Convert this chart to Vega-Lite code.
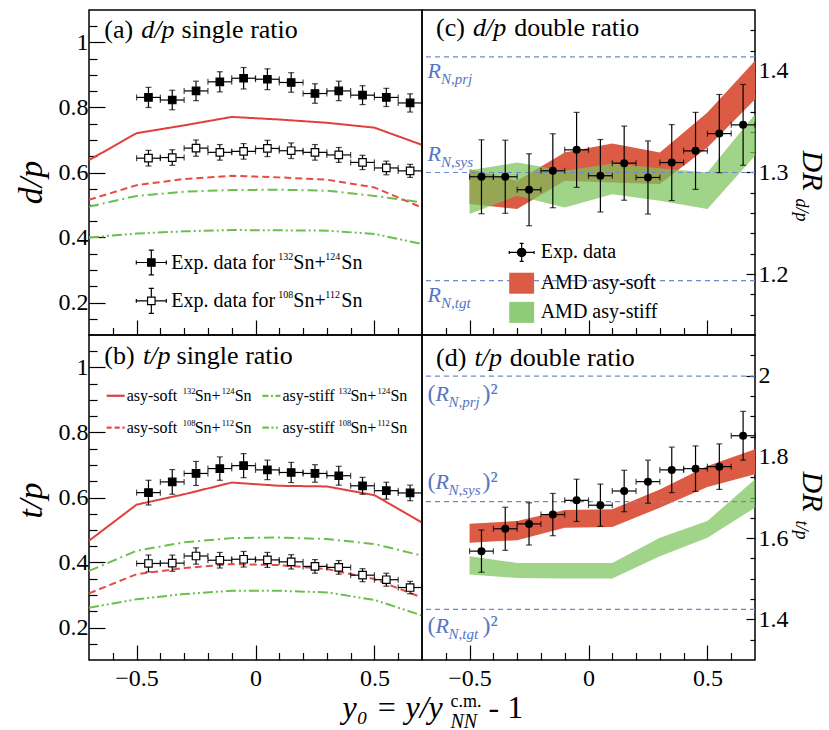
{
  "$schema": "https://vega.github.io/schema/vega-lite/v6.json",
  "background": "white",
  "padding": {"left": 13, "top": 9, "right": 5, "bottom": 5},
  "config": {
    "font": "Liberation Serif",
    "view": {"stroke": "black", "strokeWidth": 1.5},
    "axis": {"domain": false, "grid": false, "tickColor": "black", "tickWidth": 1.2, "labelFont": "Liberation Serif", "labelFontSize": 24, "labelColor": "black", "titleFont": "Liberation Serif", "titleColor": "black", "titleFontWeight": "normal", "labelOverlap": false, "labelFlush": false, "labelBound": false},
    "text": {"font": "Liberation Serif", "color": "black"}
  },
  "datasets": {
    "lines": [
      {"panel": "a", "model": "soft132", "x": -0.7, "v": 0.638}, {"panel": "a", "model": "soft132", "x": -0.5, "v": 0.721}, {"panel": "a", "model": "soft132", "x": -0.3, "v": 0.745}, {"panel": "a", "model": "soft132", "x": -0.1, "v": 0.771}, {"panel": "a", "model": "soft132", "x": 0.1, "v": 0.763}, {"panel": "a", "model": "soft132", "x": 0.3, "v": 0.753}, {"panel": "a", "model": "soft132", "x": 0.5, "v": 0.738}, {"panel": "a", "model": "soft132", "x": 0.7, "v": 0.685},
      {"panel": "a", "model": "soft108", "x": -0.7, "v": 0.516}, {"panel": "a", "model": "soft108", "x": -0.5, "v": 0.561}, {"panel": "a", "model": "soft108", "x": -0.3, "v": 0.58}, {"panel": "a", "model": "soft108", "x": -0.1, "v": 0.59}, {"panel": "a", "model": "soft108", "x": 0.1, "v": 0.585}, {"panel": "a", "model": "soft108", "x": 0.3, "v": 0.578}, {"panel": "a", "model": "soft108", "x": 0.5, "v": 0.554}, {"panel": "a", "model": "soft108", "x": 0.7, "v": 0.492},
      {"panel": "a", "model": "stiff132", "x": -0.7, "v": 0.495}, {"panel": "a", "model": "stiff132", "x": -0.5, "v": 0.528}, {"panel": "a", "model": "stiff132", "x": -0.3, "v": 0.541}, {"panel": "a", "model": "stiff132", "x": -0.1, "v": 0.546}, {"panel": "a", "model": "stiff132", "x": 0.1, "v": 0.547}, {"panel": "a", "model": "stiff132", "x": 0.3, "v": 0.544}, {"panel": "a", "model": "stiff132", "x": 0.5, "v": 0.528}, {"panel": "a", "model": "stiff132", "x": 0.7, "v": 0.508},
      {"panel": "a", "model": "stiff108", "x": -0.7, "v": 0.4}, {"panel": "a", "model": "stiff108", "x": -0.5, "v": 0.412}, {"panel": "a", "model": "stiff108", "x": -0.3, "v": 0.419}, {"panel": "a", "model": "stiff108", "x": -0.1, "v": 0.423}, {"panel": "a", "model": "stiff108", "x": 0.1, "v": 0.422}, {"panel": "a", "model": "stiff108", "x": 0.3, "v": 0.421}, {"panel": "a", "model": "stiff108", "x": 0.5, "v": 0.411}, {"panel": "a", "model": "stiff108", "x": 0.7, "v": 0.38},
      {"panel": "b", "model": "soft132", "x": -0.7, "v": 0.467}, {"panel": "b", "model": "soft132", "x": -0.5, "v": 0.578}, {"panel": "b", "model": "soft132", "x": -0.3, "v": 0.61}, {"panel": "b", "model": "soft132", "x": -0.1, "v": 0.646}, {"panel": "b", "model": "soft132", "x": 0.1, "v": 0.636}, {"panel": "b", "model": "soft132", "x": 0.3, "v": 0.634}, {"panel": "b", "model": "soft132", "x": 0.5, "v": 0.607}, {"panel": "b", "model": "soft132", "x": 0.7, "v": 0.523},
      {"panel": "b", "model": "soft108", "x": -0.7, "v": 0.305}, {"panel": "b", "model": "soft108", "x": -0.5, "v": 0.364}, {"panel": "b", "model": "soft108", "x": -0.3, "v": 0.383}, {"panel": "b", "model": "soft108", "x": -0.1, "v": 0.395}, {"panel": "b", "model": "soft108", "x": 0.1, "v": 0.392}, {"panel": "b", "model": "soft108", "x": 0.3, "v": 0.38}, {"panel": "b", "model": "soft108", "x": 0.5, "v": 0.349}, {"panel": "b", "model": "soft108", "x": 0.7, "v": 0.292},
      {"panel": "b", "model": "stiff132", "x": -0.7, "v": 0.374}, {"panel": "b", "model": "stiff132", "x": -0.5, "v": 0.436}, {"panel": "b", "model": "stiff132", "x": -0.3, "v": 0.462}, {"panel": "b", "model": "stiff132", "x": -0.1, "v": 0.475}, {"panel": "b", "model": "stiff132", "x": 0.1, "v": 0.477}, {"panel": "b", "model": "stiff132", "x": 0.3, "v": 0.472}, {"panel": "b", "model": "stiff132", "x": 0.5, "v": 0.457}, {"panel": "b", "model": "stiff132", "x": 0.7, "v": 0.421},
      {"panel": "b", "model": "stiff108", "x": -0.7, "v": 0.261}, {"panel": "b", "model": "stiff108", "x": -0.5, "v": 0.287}, {"panel": "b", "model": "stiff108", "x": -0.3, "v": 0.303}, {"panel": "b", "model": "stiff108", "x": -0.1, "v": 0.313}, {"panel": "b", "model": "stiff108", "x": 0.1, "v": 0.313}, {"panel": "b", "model": "stiff108", "x": 0.3, "v": 0.308}, {"panel": "b", "model": "stiff108", "x": 0.5, "v": 0.285}, {"panel": "b", "model": "stiff108", "x": 0.7, "v": 0.237}
    ],
    "single": [
      {"panel": "a", "sys": "132", "x": -0.45, "v": 0.831, "e": 0.031, "xe": 0.05}, {"panel": "a", "sys": "132", "x": -0.35, "v": 0.823, "e": 0.03, "xe": 0.05}, {"panel": "a", "sys": "132", "x": -0.25, "v": 0.851, "e": 0.03, "xe": 0.05}, {"panel": "a", "sys": "132", "x": -0.15, "v": 0.879, "e": 0.031, "xe": 0.05}, {"panel": "a", "sys": "132", "x": -0.05, "v": 0.89, "e": 0.033, "xe": 0.05}, {"panel": "a", "sys": "132", "x": 0.05, "v": 0.887, "e": 0.032, "xe": 0.05}, {"panel": "a", "sys": "132", "x": 0.15, "v": 0.877, "e": 0.03, "xe": 0.05}, {"panel": "a", "sys": "132", "x": 0.25, "v": 0.843, "e": 0.03, "xe": 0.05}, {"panel": "a", "sys": "132", "x": 0.35, "v": 0.851, "e": 0.03, "xe": 0.05}, {"panel": "a", "sys": "132", "x": 0.45, "v": 0.838, "e": 0.029, "xe": 0.05}, {"panel": "a", "sys": "132", "x": 0.55, "v": 0.831, "e": 0.028, "xe": 0.05}, {"panel": "a", "sys": "132", "x": 0.65, "v": 0.814, "e": 0.028, "xe": 0.05},
      {"panel": "a", "sys": "108", "x": -0.45, "v": 0.644, "e": 0.024, "xe": 0.05}, {"panel": "a", "sys": "108", "x": -0.35, "v": 0.646, "e": 0.024, "xe": 0.05}, {"panel": "a", "sys": "108", "x": -0.25, "v": 0.675, "e": 0.025, "xe": 0.05}, {"panel": "a", "sys": "108", "x": -0.15, "v": 0.662, "e": 0.024, "xe": 0.05}, {"panel": "a", "sys": "108", "x": -0.05, "v": 0.665, "e": 0.024, "xe": 0.05}, {"panel": "a", "sys": "108", "x": 0.05, "v": 0.674, "e": 0.025, "xe": 0.05}, {"panel": "a", "sys": "108", "x": 0.15, "v": 0.667, "e": 0.024, "xe": 0.05}, {"panel": "a", "sys": "108", "x": 0.25, "v": 0.662, "e": 0.024, "xe": 0.05}, {"panel": "a", "sys": "108", "x": 0.35, "v": 0.654, "e": 0.023, "xe": 0.05}, {"panel": "a", "sys": "108", "x": 0.45, "v": 0.631, "e": 0.022, "xe": 0.05}, {"panel": "a", "sys": "108", "x": 0.55, "v": 0.614, "e": 0.021, "xe": 0.05}, {"panel": "a", "sys": "108", "x": 0.65, "v": 0.605, "e": 0.02, "xe": 0.05},
      {"panel": "b", "sys": "132", "x": -0.45, "v": 0.615, "e": 0.038, "xe": 0.05}, {"panel": "b", "sys": "132", "x": -0.35, "v": 0.648, "e": 0.038, "xe": 0.05}, {"panel": "b", "sys": "132", "x": -0.25, "v": 0.674, "e": 0.037, "xe": 0.05}, {"panel": "b", "sys": "132", "x": -0.15, "v": 0.689, "e": 0.036, "xe": 0.05}, {"panel": "b", "sys": "132", "x": -0.05, "v": 0.698, "e": 0.037, "xe": 0.05}, {"panel": "b", "sys": "132", "x": 0.05, "v": 0.685, "e": 0.03, "xe": 0.05}, {"panel": "b", "sys": "132", "x": 0.15, "v": 0.677, "e": 0.031, "xe": 0.05}, {"panel": "b", "sys": "132", "x": 0.25, "v": 0.674, "e": 0.027, "xe": 0.05}, {"panel": "b", "sys": "132", "x": 0.35, "v": 0.667, "e": 0.029, "xe": 0.05}, {"panel": "b", "sys": "132", "x": 0.45, "v": 0.636, "e": 0.026, "xe": 0.05}, {"panel": "b", "sys": "132", "x": 0.55, "v": 0.621, "e": 0.026, "xe": 0.05}, {"panel": "b", "sys": "132", "x": 0.65, "v": 0.614, "e": 0.024, "xe": 0.05},
      {"panel": "b", "sys": "108", "x": -0.45, "v": 0.397, "e": 0.026, "xe": 0.05}, {"panel": "b", "sys": "108", "x": -0.35, "v": 0.398, "e": 0.025, "xe": 0.05}, {"panel": "b", "sys": "108", "x": -0.25, "v": 0.42, "e": 0.025, "xe": 0.05}, {"panel": "b", "sys": "108", "x": -0.15, "v": 0.407, "e": 0.024, "xe": 0.05}, {"panel": "b", "sys": "108", "x": -0.05, "v": 0.41, "e": 0.024, "xe": 0.05}, {"panel": "b", "sys": "108", "x": 0.05, "v": 0.408, "e": 0.023, "xe": 0.05}, {"panel": "b", "sys": "108", "x": 0.15, "v": 0.402, "e": 0.022, "xe": 0.05}, {"panel": "b", "sys": "108", "x": 0.25, "v": 0.388, "e": 0.021, "xe": 0.05}, {"panel": "b", "sys": "108", "x": 0.35, "v": 0.385, "e": 0.021, "xe": 0.05}, {"panel": "b", "sys": "108", "x": 0.45, "v": 0.361, "e": 0.02, "xe": 0.05}, {"panel": "b", "sys": "108", "x": 0.55, "v": 0.347, "e": 0.02, "xe": 0.05}, {"panel": "b", "sys": "108", "x": 0.65, "v": 0.323, "e": 0.019, "xe": 0.05}
    ],
    "double": [
      {"panel": "c", "x": -0.45, "v": 1.2958, "e": 0.0364, "xe": 0.05}, {"panel": "c", "x": -0.35, "v": 1.2958, "e": 0.036, "xe": 0.05}, {"panel": "c", "x": -0.25, "v": 1.283, "e": 0.0354, "xe": 0.05}, {"panel": "c", "x": -0.15, "v": 1.3017, "e": 0.0364, "xe": 0.05}, {"panel": "c", "x": -0.05, "v": 1.3223, "e": 0.0369, "xe": 0.05}, {"panel": "c", "x": 0.05, "v": 1.2968, "e": 0.0357, "xe": 0.05}, {"panel": "c", "x": 0.15, "v": 1.3092, "e": 0.0365, "xe": 0.05}, {"panel": "c", "x": 0.25, "v": 1.2951, "e": 0.036, "xe": 0.05}, {"panel": "c", "x": 0.35, "v": 1.3098, "e": 0.0374, "xe": 0.05}, {"panel": "c", "x": 0.45, "v": 1.3213, "e": 0.0379, "xe": 0.05}, {"panel": "c", "x": 0.55, "v": 1.3383, "e": 0.0385, "xe": 0.05}, {"panel": "c", "x": 0.65, "v": 1.3469, "e": 0.0398, "xe": 0.05},
      {"panel": "d", "x": -0.45, "v": 1.568, "e": 0.052, "xe": 0.05}, {"panel": "d", "x": -0.35, "v": 1.623, "e": 0.053, "xe": 0.05}, {"panel": "d", "x": -0.25, "v": 1.635, "e": 0.052, "xe": 0.05}, {"panel": "d", "x": -0.15, "v": 1.658, "e": 0.052, "xe": 0.05}, {"panel": "d", "x": -0.05, "v": 1.693, "e": 0.052, "xe": 0.05}, {"panel": "d", "x": 0.05, "v": 1.681, "e": 0.052, "xe": 0.05}, {"panel": "d", "x": 0.15, "v": 1.716, "e": 0.051, "xe": 0.05}, {"panel": "d", "x": 0.25, "v": 1.739, "e": 0.053, "xe": 0.05}, {"panel": "d", "x": 0.35, "v": 1.768, "e": 0.056, "xe": 0.05}, {"panel": "d", "x": 0.45, "v": 1.771, "e": 0.056, "xe": 0.05}, {"panel": "d", "x": 0.55, "v": 1.776, "e": 0.056, "xe": 0.05}, {"panel": "d", "x": 0.65, "v": 1.852, "e": 0.06, "xe": 0.05}
    ],
    "bands": [
      {"panel": "c", "model": "soft", "x": -0.5, "lo": 1.2689, "hi": 1.3033}, {"panel": "c", "model": "soft", "x": -0.3, "lo": 1.264, "hi": 1.292}, {"panel": "c", "model": "soft", "x": -0.1, "lo": 1.2918, "hi": 1.3197}, {"panel": "c", "model": "soft", "x": 0.1, "lo": 1.2902, "hi": 1.3285}, {"panel": "c", "model": "soft", "x": 0.3, "lo": 1.2886, "hi": 1.3197}, {"panel": "c", "model": "soft", "x": 0.5, "lo": 1.3246, "hi": 1.359}, {"panel": "c", "model": "soft", "x": 0.7, "lo": 1.372, "hi": 1.41},
      {"panel": "c", "model": "stiff", "x": -0.5, "lo": 1.2591, "hi": 1.3023}, {"panel": "c", "model": "stiff", "x": -0.3, "lo": 1.2771, "hi": 1.3098}, {"panel": "c", "model": "stiff", "x": -0.1, "lo": 1.2656, "hi": 1.3017}, {"panel": "c", "model": "stiff", "x": 0.1, "lo": 1.2787, "hi": 1.3089}, {"panel": "c", "model": "stiff", "x": 0.3, "lo": 1.2722, "hi": 1.3043}, {"panel": "c", "model": "stiff", "x": 0.5, "lo": 1.264, "hi": 1.3}, {"panel": "c", "model": "stiff", "x": 0.7, "lo": 1.3164, "hi": 1.3574},
      {"panel": "d", "model": "soft", "x": -0.5, "lo": 1.5885, "hi": 1.6354}, {"panel": "d", "model": "soft", "x": -0.3, "lo": 1.595, "hi": 1.642}, {"panel": "d", "model": "soft", "x": -0.1, "lo": 1.6255, "hi": 1.669}, {"panel": "d", "model": "soft", "x": 0.1, "lo": 1.6272, "hi": 1.6708}, {"panel": "d", "model": "soft", "x": 0.3, "lo": 1.6749, "hi": 1.72}, {"panel": "d", "model": "soft", "x": 0.5, "lo": 1.726, "hi": 1.7778}, {"panel": "d", "model": "soft", "x": 0.7, "lo": 1.7573, "hi": 1.819},
      {"panel": "d", "model": "stiff", "x": -0.5, "lo": 1.5103, "hi": 1.5556}, {"panel": "d", "model": "stiff", "x": -0.3, "lo": 1.502, "hi": 1.539}, {"panel": "d", "model": "stiff", "x": -0.1, "lo": 1.5005, "hi": 1.539}, {"panel": "d", "model": "stiff", "x": 0.1, "lo": 1.5005, "hi": 1.539}, {"panel": "d", "model": "stiff", "x": 0.3, "lo": 1.5556, "hi": 1.6008}, {"panel": "d", "model": "stiff", "x": 0.5, "lo": 1.6008, "hi": 1.642}, {"panel": "d", "model": "stiff", "x": 0.7, "lo": 1.6749, "hi": 1.745}
    ],
    "refs": [
      {"panel": "c", "ref": "N,prj", "v": 1.4138, "labelV": 1.3928}, {"panel": "c", "ref": "N,sys", "v": 1.3, "labelV": 1.3115}, {"panel": "c", "ref": "N,tgt", "v": 1.1935, "labelV": 1.1722},
      {"panel": "d", "ref": "N,prj", "v": 1.9988, "labelV": 1.938}, {"panel": "d", "ref": "N,sys", "v": 1.69, "labelV": 1.72}, {"panel": "d", "ref": "N,tgt", "v": 1.4245, "labelV": 1.366}
    ],
    "legend": [
      {"panel": "a", "kind": "exp132", "x": -0.438, "y": 0.323, "label": "Exp. data for", "a": "132", "b": "124"},
      {"panel": "a", "kind": "exp108", "x": -0.438, "y": 0.205, "label": "Exp. data for", "a": "108", "b": "112"},
      {"panel": "b", "kind": "soft132", "x": -0.588, "y": 0.913, "label": "asy-soft", "a": "132", "b": "124"},
      {"panel": "b", "kind": "stiff132", "x": 0.067, "y": 0.913, "label": "asy-stiff", "a": "132", "b": "124"},
      {"panel": "b", "kind": "soft108", "x": -0.588, "y": 0.815, "label": "asy-soft", "a": "108", "b": "112"},
      {"panel": "b", "kind": "stiff108", "x": 0.067, "y": 0.815, "label": "asy-stiff", "a": "108", "b": "112"},
      {"panel": "c", "kind": "expDR", "x": -0.281, "y": 1.2213, "label": "Exp. data"},
      {"panel": "c", "kind": "bandSoft", "x": -0.281, "y": 1.191, "label": "AMD asy-soft"},
      {"panel": "c", "kind": "bandStiff", "x": -0.281, "y": 1.1623, "label": "AMD asy-stiff"}
    ],
    "labels": [
      {"panel": "a", "part": "num", "x": -0.636, "y": 1.015, "text": "(a)"}, {"panel": "a", "part": "var", "x": -0.48, "y": 1.015, "text": "d/p"}, {"panel": "a", "part": "desc", "x": -0.311, "y": 1.015, "text": "single ratio"},
      {"panel": "b", "part": "num", "x": -0.636, "y": 1.0105, "text": "(b)"}, {"panel": "b", "part": "var", "x": -0.473, "y": 1.0105, "text": "t/p"}, {"panel": "b", "part": "desc", "x": -0.332, "y": 1.0105, "text": "single ratio"},
      {"panel": "c", "part": "num", "x": -0.641, "y": 1.4344, "text": "(c)"}, {"panel": "c", "part": "var", "x": -0.486, "y": 1.4344, "text": "d/p"}, {"panel": "c", "part": "desc", "x": -0.312, "y": 1.4344, "text": "double ratio"},
      {"panel": "d", "part": "num", "x": -0.641, "y": 2.0247, "text": "(d)"}, {"panel": "d", "part": "var", "x": -0.479, "y": 2.0247, "text": "t/p"}, {"panel": "d", "part": "desc", "x": -0.331, "y": 2.0247, "text": "double ratio"}
    ]
  },
  "columns": 2,
  "spacing": 0,
  "bounds": "flush",
  "resolve": {"scale": {"color": "independent", "strokeDash": "independent", "fill": "independent", "stroke": "independent", "shape": "independent"}},
  "concat": [
    {
      "width": 333, "height": 325,
      "resolve": {"axis": {"x": "independent", "y": "independent"}, "scale": {"color": "independent", "strokeDash": "independent", "fill": "independent", "stroke": "independent", "shape": "independent"}},
      "layer": [
        {
          "data": {"name": "lines"}, "transform": [{"filter": "datum.panel == 'a'"}],
          "mark": {"type": "line", "strokeWidth": 2},
          "encoding": {
            "x": {"field": "x", "type": "quantitative", "scale": {"domain": [-0.7, 0.7], "nice": false, "zero": false}, "axis": {"orient": "bottom", "values": [-0.6, -0.5, -0.4, -0.3, -0.2, -0.1, 0, 0.1, 0.2, 0.3, 0.4, 0.5, 0.6], "tickSize": {"condition": {"test": "datum.value == 0 || abs(datum.value) == 0.5", "value": -15}, "value": -7.5}, "labels": false, "title": null}},
            "y": {"field": "v", "type": "quantitative", "scale": {"domain": [0.1, 1.1], "nice": false, "zero": false}, "axis": {"orient": "left", "values": [0.15, 0.2, 0.25, 0.3, 0.35, 0.4, 0.45, 0.5, 0.55, 0.6, 0.65, 0.7, 0.75, 0.8, 0.85, 0.9, 0.95, 1, 1.05], "tickSize": {"condition": {"test": "indexof([0.2,0.4,0.6,0.8,1], datum.value) >= 0", "value": -16}, "value": -8}, "labelExpr": "indexof([0.2,0.4,0.6,0.8,1], datum.value) >= 0 ? format(datum.value, '~g') : ''", "labelPadding": 17, "title": "d/p", "titleFontSize": 34, "titleFontStyle": "italic", "titleAngle": 270, "titleX": -48, "titleY": 172, "titleAlign": "center", "titleBaseline": "alphabetic"}},
            "color": {"field": "model", "type": "nominal", "scale": {"domain": ["soft132", "soft108", "stiff132", "stiff108"], "range": ["#e0403c", "#e84a45", "#6cbf4f", "#6cbf4f"]}, "legend": null},
            "strokeDash": {"field": "model", "type": "nominal", "scale": {"domain": ["soft132", "soft108", "stiff132", "stiff108"], "range": [[1, 0], [7, 4], [10, 4, 2, 4], [10, 3, 2, 3, 2, 3]]}, "legend": null}
          }
        },
        {
          "data": {"name": "single"}, "transform": [{"filter": "datum.panel == 'a'"}],
          "mark": {"type": "errorbar", "ticks": true, "size": 6, "thickness": 1.2, "color": "black"},
          "encoding": {
            "x": {"field": "x", "type": "quantitative", "scale": {"domain": [-0.7, 0.7], "nice": false, "zero": false}, "axis": null},
            "y": {"field": "v", "type": "quantitative", "scale": {"domain": [0.1, 1.1], "nice": false, "zero": false}, "axis": null},
            "yError": {"field": "e"}
          }
        },
        {
          "data": {"name": "single"}, "transform": [{"filter": "datum.panel == 'a'"}],
          "mark": {"type": "errorbar", "ticks": true, "size": 6, "thickness": 1.2, "color": "black"},
          "encoding": {
            "x": {"field": "x", "type": "quantitative", "scale": {"domain": [-0.7, 0.7], "nice": false, "zero": false}, "axis": null},
            "xError": {"field": "xe"},
            "y": {"field": "v", "type": "quantitative", "scale": {"domain": [0.1, 1.1], "nice": false, "zero": false}, "axis": null}
          }
        },
        {
          "data": {"name": "single"}, "transform": [{"filter": "datum.panel == 'a'"}],
          "mark": {"type": "point", "shape": "square", "size": 56, "filled": true, "stroke": "black", "strokeWidth": 1.2, "opacity": 1},
          "encoding": {
            "x": {"field": "x", "type": "quantitative", "scale": {"domain": [-0.7, 0.7], "nice": false, "zero": false}, "axis": null},
            "y": {"field": "v", "type": "quantitative", "scale": {"domain": [0.1, 1.1], "nice": false, "zero": false}, "axis": null},
            "fill": {"condition": {"test": "datum.sys == '132'", "value": "black"}, "value": "white"}
          }
        },
        {
          "data": {"name": "legend"}, "transform": [{"filter": "datum.panel == 'a'"}],
          "mark": {"type": "point", "size": 900, "filled": true, "strokeWidth": 1.2, "opacity": 1},
          "encoding": {
            "x": {"field": "x", "type": "quantitative", "scale": {"domain": [-0.7, 0.7], "nice": false, "zero": false}, "axis": null},
            "y": {"field": "y", "type": "quantitative", "scale": {"domain": [0.1, 1.1], "nice": false, "zero": false}, "axis": null},
            "shape": {"field": "kind", "type": "nominal", "legend": null, "scale": {"domain": ["exp132", "exp108", "expDR", "soft132", "soft108", "stiff132", "stiff108", "bandSoft", "bandStiff"], "range": ["M-1,0H-0.25M0.25,0H1M0,-0.83V-0.25M0,0.25V0.83M-0.17,-0.83H0.17M-0.17,0.83H0.17M-1,-0.13V0.13M1,-0.13V0.13M-0.25,-0.25H0.25V0.25H-0.25Z", "M-1,0H-0.25M0.25,0H1M0,-0.83V-0.25M0,0.25V0.83M-0.17,-0.83H0.17M-0.17,0.83H0.17M-1,-0.13V0.13M1,-0.13V0.13M-0.25,-0.25H0.25V0.25H-0.25Z", "M-0.83,0H0.83M0,-0.6V0.6M-0.13,-0.6H0.13M-0.13,0.6H0.13M-0.83,-0.1V0.1M0.83,-0.1V0.1M-0.28,0A0.28,0.28 0 1,0 0.28,0A0.28,0.28 0 1,0 -0.28,0Z", "M-0.6,-0.075H0.6V0.075H-0.6Z", "M-0.6,-0.075H-0.27V0.075H-0.6ZM-0.07,-0.075H0.27V0.075H-0.07ZM0.45,-0.075H0.6V0.075H0.45Z", "M-0.6,-0.075H-0.2V0.075H-0.6ZM-0.03,-0.075H0.1V0.075H-0.03ZM0.27,-0.075H0.6V0.075H0.27Z", "M-0.6,-0.075H-0.17V0.075H-0.6ZM0,-0.075H0.13V0.075H0ZM0.3,-0.075H0.43V0.075H0.3Z", "M-0.83,-0.7H0.83V0.7H-0.83Z", "M-0.83,-0.7H0.83V0.7H-0.83Z"]}},
            "fill": {"field": "kind", "type": "nominal", "legend": null, "scale": {"domain": ["exp132", "exp108", "expDR", "soft132", "soft108", "stiff132", "stiff108", "bandSoft", "bandStiff"], "range": ["black", "white", "black", "#e0403c", "#e84a45", "#6cbf4f", "#6cbf4f", "#db5b45", "#8fcc78"]}},
            "stroke": {"field": "kind", "type": "nominal", "legend": null, "scale": {"domain": ["exp132", "exp108", "expDR", "soft132", "soft108", "stiff132", "stiff108", "bandSoft", "bandStiff"], "range": ["black", "black", "black", "transparent", "transparent", "transparent", "transparent", "transparent", "transparent"]}}
          }
        },
        {
          "data": {"name": "legend"}, "transform": [{"filter": "datum.panel == 'a'"}],
          "mark": {"type": "text", "align": "left", "baseline": "middle", "dx": 20, "fontSize": 20},
          "encoding": {
            "x": {"field": "x", "type": "quantitative", "scale": {"domain": [-0.7, 0.7], "nice": false, "zero": false}, "axis": null},
            "y": {"field": "y", "type": "quantitative", "scale": {"domain": [0.1, 1.1], "nice": false, "zero": false}, "axis": null},
            "text": {"field": "label"}
          }
        },
        {
          "data": {"name": "legend"}, "transform": [{"filter": "datum.panel == 'a'"}],
          "mark": {"type": "text", "align": "left", "baseline": "middle", "dx": 127, "dy": -6, "fontSize": 10},
          "encoding": {
            "x": {"field": "x", "type": "quantitative", "scale": {"domain": [-0.7, 0.7], "nice": false, "zero": false}, "axis": null},
            "y": {"field": "y", "type": "quantitative", "scale": {"domain": [0.1, 1.1], "nice": false, "zero": false}, "axis": null},
            "text": {"field": "a"}
          }
        },
        {
          "data": {"name": "legend"}, "transform": [{"filter": "datum.panel == 'a'"}],
          "mark": {"type": "text", "align": "left", "baseline": "middle", "dx": 142, "fontSize": 20},
          "encoding": {
            "x": {"field": "x", "type": "quantitative", "scale": {"domain": [-0.7, 0.7], "nice": false, "zero": false}, "axis": null},
            "y": {"field": "y", "type": "quantitative", "scale": {"domain": [0.1, 1.1], "nice": false, "zero": false}, "axis": null},
            "text": {"value": "Sn+"}
          }
        },
        {
          "data": {"name": "legend"}, "transform": [{"filter": "datum.panel == 'a'"}],
          "mark": {"type": "text", "align": "left", "baseline": "middle", "dx": 174, "dy": -6, "fontSize": 10},
          "encoding": {
            "x": {"field": "x", "type": "quantitative", "scale": {"domain": [-0.7, 0.7], "nice": false, "zero": false}, "axis": null},
            "y": {"field": "y", "type": "quantitative", "scale": {"domain": [0.1, 1.1], "nice": false, "zero": false}, "axis": null},
            "text": {"field": "b"}
          }
        },
        {
          "data": {"name": "legend"}, "transform": [{"filter": "datum.panel == 'a'"}],
          "mark": {"type": "text", "align": "left", "baseline": "middle", "dx": 190, "fontSize": 20},
          "encoding": {
            "x": {"field": "x", "type": "quantitative", "scale": {"domain": [-0.7, 0.7], "nice": false, "zero": false}, "axis": null},
            "y": {"field": "y", "type": "quantitative", "scale": {"domain": [0.1, 1.1], "nice": false, "zero": false}, "axis": null},
            "text": {"value": "Sn"}
          }
        },
        {
          "data": {"name": "labels"}, "transform": [{"filter": "datum.panel == 'a' && datum.part != 'var'"}],
          "mark": {"type": "text", "align": "left", "baseline": "alphabetic", "fontSize": 26},
          "encoding": {
            "x": {"field": "x", "type": "quantitative", "scale": {"domain": [-0.7, 0.7], "nice": false, "zero": false}, "axis": null},
            "y": {"field": "y", "type": "quantitative", "scale": {"domain": [0.1, 1.1], "nice": false, "zero": false}, "axis": null},
            "text": {"field": "text"}
          }
        },
        {
          "data": {"name": "labels"}, "transform": [{"filter": "datum.panel == 'a' && datum.part == 'var'"}],
          "mark": {"type": "text", "align": "left", "baseline": "alphabetic", "fontSize": 26, "fontStyle": "italic"},
          "encoding": {
            "x": {"field": "x", "type": "quantitative", "scale": {"domain": [-0.7, 0.7], "nice": false, "zero": false}, "axis": null},
            "y": {"field": "y", "type": "quantitative", "scale": {"domain": [0.1, 1.1], "nice": false, "zero": false}, "axis": null},
            "text": {"field": "text"}
          }
        }
      ]
    },
    {
      "width": 333, "height": 325,
      "resolve": {"axis": {"x": "independent", "y": "independent"}, "scale": {"color": "independent", "strokeDash": "independent", "fill": "independent", "stroke": "independent", "shape": "independent"}},
      "layer": [
        {
          "data": {"name": "bands"}, "transform": [{"filter": "datum.panel == 'c' && datum.model == 'soft'"}],
          "mark": {"type": "area", "color": "#db5b45", "opacity": 1},
          "encoding": {
            "x": {"field": "x", "type": "quantitative", "scale": {"domain": [-0.7, 0.7], "nice": false, "zero": false}, "axis": {"orient": "bottom", "values": [-0.6, -0.5, -0.4, -0.3, -0.2, -0.1, 0, 0.1, 0.2, 0.3, 0.4, 0.5, 0.6], "tickSize": {"condition": {"test": "datum.value == 0 || abs(datum.value) == 0.5", "value": -15}, "value": -7.5}, "labels": false, "title": null}},
            "y": {"field": "lo", "type": "quantitative", "scale": {"domain": [1.14, 1.46], "nice": false, "zero": false}, "axis": {"orient": "right", "values": [1.16, 1.18, 1.2, 1.22, 1.24, 1.26, 1.28, 1.3, 1.32, 1.34, 1.36, 1.38, 1.4, 1.42, 1.44], "tickSize": {"condition": {"test": "indexof([1.2,1.3,1.4], datum.value) >= 0", "value": -9}, "value": -5}, "labelExpr": "indexof([1.2,1.3,1.4], datum.value) >= 0 ? format(datum.value, '~g') : ''", "labelPadding": 12, "title": "DR", "titleFontSize": 30, "titleFontStyle": "italic", "titleAngle": 90, "titleX": 47, "titleY": 140, "titleAlign": "left", "titleBaseline": "alphabetic"}},
            "y2": {"field": "hi"}
          }
        },
        {
          "data": {"name": "bands"}, "transform": [{"filter": "datum.panel == 'c' && datum.model == 'stiff'"}],
          "mark": {"type": "area", "color": "#7cc35a", "opacity": 0.72},
          "encoding": {
            "x": {"field": "x", "type": "quantitative", "scale": {"domain": [-0.7, 0.7], "nice": false, "zero": false}, "axis": null},
            "y": {"field": "lo", "type": "quantitative", "scale": {"domain": [1.14, 1.46], "nice": false, "zero": false}, "axis": {"orient": "right", "domain": false, "ticks": false, "labels": false, "title": "d/p", "titleFontSize": 18, "titleFontStyle": "italic", "titleAngle": 90, "titleX": 40, "titleY": 188, "titleAlign": "left", "titleBaseline": "alphabetic"}},
            "y2": {"field": "hi"}
          }
        },
        {
          "data": {"name": "refs"}, "transform": [{"filter": "datum.panel == 'c'"}],
          "mark": {"type": "rule", "color": "#7088d0", "strokeWidth": 1.2, "strokeDash": [5, 4]},
          "encoding": {
            "y": {"field": "v", "type": "quantitative", "scale": {"domain": [1.14, 1.46], "nice": false, "zero": false}, "axis": null}
          }
        },
        {
          "data": {"name": "refs"}, "transform": [{"filter": "datum.panel == 'c'"}],
          "mark": {"type": "text", "align": "left", "baseline": "alphabetic", "fontSize": 22, "fontStyle": "italic", "color": "#5674c6"},
          "encoding": {
            "x": {"datum": -0.677, "type": "quantitative", "scale": {"domain": [-0.7, 0.7], "nice": false, "zero": false}, "axis": null},
            "y": {"field": "labelV", "type": "quantitative", "scale": {"domain": [1.14, 1.46], "nice": false, "zero": false}, "axis": null},
            "text": {"value": "R"}
          }
        },
        {
          "data": {"name": "refs"}, "transform": [{"filter": "datum.panel == 'c'"}],
          "mark": {"type": "text", "align": "left", "baseline": "alphabetic", "fontSize": 15, "fontStyle": "italic", "color": "#5674c6", "dx": 13.5, "dy": 6},
          "encoding": {
            "x": {"datum": -0.677, "type": "quantitative", "scale": {"domain": [-0.7, 0.7], "nice": false, "zero": false}, "axis": null},
            "y": {"field": "labelV", "type": "quantitative", "scale": {"domain": [1.14, 1.46], "nice": false, "zero": false}, "axis": null},
            "text": {"field": "ref"}
          }
        },
        {
          "data": {"name": "double"}, "transform": [{"filter": "datum.panel == 'c'"}],
          "mark": {"type": "errorbar", "ticks": true, "size": 6, "thickness": 1.2, "color": "black"},
          "encoding": {
            "x": {"field": "x", "type": "quantitative", "scale": {"domain": [-0.7, 0.7], "nice": false, "zero": false}, "axis": null},
            "y": {"field": "v", "type": "quantitative", "scale": {"domain": [1.14, 1.46], "nice": false, "zero": false}, "axis": null},
            "yError": {"field": "e"}
          }
        },
        {
          "data": {"name": "double"}, "transform": [{"filter": "datum.panel == 'c'"}],
          "mark": {"type": "errorbar", "ticks": true, "size": 6, "thickness": 1.2, "color": "black"},
          "encoding": {
            "x": {"field": "x", "type": "quantitative", "scale": {"domain": [-0.7, 0.7], "nice": false, "zero": false}, "axis": null},
            "xError": {"field": "xe"},
            "y": {"field": "v", "type": "quantitative", "scale": {"domain": [1.14, 1.46], "nice": false, "zero": false}, "axis": null}
          }
        },
        {
          "data": {"name": "double"}, "transform": [{"filter": "datum.panel == 'c'"}],
          "mark": {"type": "point", "shape": "circle", "size": 64, "filled": true, "color": "black", "opacity": 1},
          "encoding": {
            "x": {"field": "x", "type": "quantitative", "scale": {"domain": [-0.7, 0.7], "nice": false, "zero": false}, "axis": null},
            "y": {"field": "v", "type": "quantitative", "scale": {"domain": [1.14, 1.46], "nice": false, "zero": false}, "axis": null}
          }
        },
        {
          "data": {"name": "legend"}, "transform": [{"filter": "datum.panel == 'c'"}],
          "mark": {"type": "point", "size": 900, "filled": true, "strokeWidth": 1.2, "opacity": 1},
          "encoding": {
            "x": {"field": "x", "type": "quantitative", "scale": {"domain": [-0.7, 0.7], "nice": false, "zero": false}, "axis": null},
            "y": {"field": "y", "type": "quantitative", "scale": {"domain": [1.14, 1.46], "nice": false, "zero": false}, "axis": null},
            "shape": {"field": "kind", "type": "nominal", "legend": null, "scale": {"domain": ["exp132", "exp108", "expDR", "soft132", "soft108", "stiff132", "stiff108", "bandSoft", "bandStiff"], "range": ["M-1,0H-0.25M0.25,0H1M0,-0.83V-0.25M0,0.25V0.83M-0.17,-0.83H0.17M-0.17,0.83H0.17M-1,-0.13V0.13M1,-0.13V0.13M-0.25,-0.25H0.25V0.25H-0.25Z", "M-1,0H-0.25M0.25,0H1M0,-0.83V-0.25M0,0.25V0.83M-0.17,-0.83H0.17M-0.17,0.83H0.17M-1,-0.13V0.13M1,-0.13V0.13M-0.25,-0.25H0.25V0.25H-0.25Z", "M-0.83,0H0.83M0,-0.6V0.6M-0.13,-0.6H0.13M-0.13,0.6H0.13M-0.83,-0.1V0.1M0.83,-0.1V0.1M-0.28,0A0.28,0.28 0 1,0 0.28,0A0.28,0.28 0 1,0 -0.28,0Z", "M-0.6,-0.075H0.6V0.075H-0.6Z", "M-0.6,-0.075H-0.27V0.075H-0.6ZM-0.07,-0.075H0.27V0.075H-0.07ZM0.45,-0.075H0.6V0.075H0.45Z", "M-0.6,-0.075H-0.2V0.075H-0.6ZM-0.03,-0.075H0.1V0.075H-0.03ZM0.27,-0.075H0.6V0.075H0.27Z", "M-0.6,-0.075H-0.17V0.075H-0.6ZM0,-0.075H0.13V0.075H0ZM0.3,-0.075H0.43V0.075H0.3Z", "M-0.83,-0.7H0.83V0.7H-0.83Z", "M-0.83,-0.7H0.83V0.7H-0.83Z"]}},
            "fill": {"field": "kind", "type": "nominal", "legend": null, "scale": {"domain": ["exp132", "exp108", "expDR", "soft132", "soft108", "stiff132", "stiff108", "bandSoft", "bandStiff"], "range": ["black", "white", "black", "#e0403c", "#e84a45", "#6cbf4f", "#6cbf4f", "#db5b45", "#8fcc78"]}},
            "stroke": {"field": "kind", "type": "nominal", "legend": null, "scale": {"domain": ["exp132", "exp108", "expDR", "soft132", "soft108", "stiff132", "stiff108", "bandSoft", "bandStiff"], "range": ["black", "black", "black", "transparent", "transparent", "transparent", "transparent", "transparent", "transparent"]}}
          }
        },
        {
          "data": {"name": "legend"}, "transform": [{"filter": "datum.panel == 'c'"}],
          "mark": {"type": "text", "align": "left", "baseline": "middle", "dx": 19, "fontSize": 20},
          "encoding": {
            "x": {"field": "x", "type": "quantitative", "scale": {"domain": [-0.7, 0.7], "nice": false, "zero": false}, "axis": null},
            "y": {"field": "y", "type": "quantitative", "scale": {"domain": [1.14, 1.46], "nice": false, "zero": false}, "axis": null},
            "text": {"field": "label"}
          }
        },
        {
          "data": {"name": "labels"}, "transform": [{"filter": "datum.panel == 'c' && datum.part != 'var'"}],
          "mark": {"type": "text", "align": "left", "baseline": "alphabetic", "fontSize": 26},
          "encoding": {
            "x": {"field": "x", "type": "quantitative", "scale": {"domain": [-0.7, 0.7], "nice": false, "zero": false}, "axis": null},
            "y": {"field": "y", "type": "quantitative", "scale": {"domain": [1.14, 1.46], "nice": false, "zero": false}, "axis": null},
            "text": {"field": "text"}
          }
        },
        {
          "data": {"name": "labels"}, "transform": [{"filter": "datum.panel == 'c' && datum.part == 'var'"}],
          "mark": {"type": "text", "align": "left", "baseline": "alphabetic", "fontSize": 26, "fontStyle": "italic"},
          "encoding": {
            "x": {"field": "x", "type": "quantitative", "scale": {"domain": [-0.7, 0.7], "nice": false, "zero": false}, "axis": null},
            "y": {"field": "y", "type": "quantitative", "scale": {"domain": [1.14, 1.46], "nice": false, "zero": false}, "axis": null},
            "text": {"field": "text"}
          }
        }
      ]
    },
    {
      "width": 333, "height": 325,
      "resolve": {"axis": {"x": "independent", "y": "independent"}, "scale": {"color": "independent", "strokeDash": "independent", "fill": "independent", "stroke": "independent", "shape": "independent"}},
      "layer": [
        {
          "data": {"name": "lines"}, "transform": [{"filter": "datum.panel == 'b'"}],
          "mark": {"type": "line", "strokeWidth": 2},
          "encoding": {
            "x": {"field": "x", "type": "quantitative", "scale": {"domain": [-0.7, 0.7], "nice": false, "zero": false}, "axis": {"orient": "bottom", "values": [-0.6, -0.5, -0.4, -0.3, -0.2, -0.1, 0, 0.1, 0.2, 0.3, 0.4, 0.5, 0.6], "tickSize": {"condition": {"test": "datum.value == 0 || abs(datum.value) == 0.5", "value": -15}, "value": -7.5}, "labelExpr": "datum.value == 0 ? '0' : datum.value == 0.5 ? '0.5' : datum.value == -0.5 ? '−0.5' : ''", "labelPadding": 21, "labelBaseline": "top", "title": "y₀ = y/y", "titleFontSize": 32, "titleFontStyle": "italic", "titleX": 253, "titleY": 57, "titleAlign": "left", "titleBaseline": "alphabetic"}},
            "y": {"field": "v", "type": "quantitative", "scale": {"domain": [0.1, 1.1], "nice": false, "zero": false}, "axis": {"orient": "left", "values": [0.15, 0.2, 0.25, 0.3, 0.35, 0.4, 0.45, 0.5, 0.55, 0.6, 0.65, 0.7, 0.75, 0.8, 0.85, 0.9, 0.95, 1, 1.05], "tickSize": {"condition": {"test": "indexof([0.2,0.4,0.6,0.8,1], datum.value) >= 0", "value": -16}, "value": -8}, "labelExpr": "indexof([0.2,0.4,0.6,0.8,1], datum.value) >= 0 ? format(datum.value, '~g') : ''", "labelPadding": 17, "title": "t/p", "titleFontSize": 34, "titleFontStyle": "italic", "titleAngle": 270, "titleX": -48, "titleY": 165, "titleAlign": "center", "titleBaseline": "alphabetic"}},
            "color": {"field": "model", "type": "nominal", "scale": {"domain": ["soft132", "soft108", "stiff132", "stiff108"], "range": ["#e0403c", "#e84a45", "#6cbf4f", "#6cbf4f"]}, "legend": null},
            "strokeDash": {"field": "model", "type": "nominal", "scale": {"domain": ["soft132", "soft108", "stiff132", "stiff108"], "range": [[1, 0], [7, 4], [10, 4, 2, 4], [10, 3, 2, 3, 2, 3]]}, "legend": null}
          }
        },
        {
          "data": {"name": "single"}, "transform": [{"filter": "datum.panel == 'b'"}],
          "mark": {"type": "errorbar", "ticks": true, "size": 6, "thickness": 1.2, "color": "black"},
          "encoding": {
            "x": {"field": "x", "type": "quantitative", "scale": {"domain": [-0.7, 0.7], "nice": false, "zero": false}, "axis": {"orient": "bottom", "domain": false, "ticks": false, "labels": false, "title": "c.m.", "titleFontSize": 18, "titleX": 361, "titleY": 46, "titleAlign": "left", "titleBaseline": "alphabetic"}},
            "y": {"field": "v", "type": "quantitative", "scale": {"domain": [0.1, 1.1], "nice": false, "zero": false}, "axis": null},
            "yError": {"field": "e"}
          }
        },
        {
          "data": {"name": "single"}, "transform": [{"filter": "datum.panel == 'b'"}],
          "mark": {"type": "errorbar", "ticks": true, "size": 6, "thickness": 1.2, "color": "black"},
          "encoding": {
            "x": {"field": "x", "type": "quantitative", "scale": {"domain": [-0.7, 0.7], "nice": false, "zero": false}, "axis": null},
            "xError": {"field": "xe"},
            "y": {"field": "v", "type": "quantitative", "scale": {"domain": [0.1, 1.1], "nice": false, "zero": false}, "axis": null}
          }
        },
        {
          "data": {"name": "single"}, "transform": [{"filter": "datum.panel == 'b'"}],
          "mark": {"type": "point", "shape": "square", "size": 56, "filled": true, "stroke": "black", "strokeWidth": 1.2, "opacity": 1},
          "encoding": {
            "x": {"field": "x", "type": "quantitative", "scale": {"domain": [-0.7, 0.7], "nice": false, "zero": false}, "axis": null},
            "y": {"field": "v", "type": "quantitative", "scale": {"domain": [0.1, 1.1], "nice": false, "zero": false}, "axis": null},
            "fill": {"condition": {"test": "datum.sys == '132'", "value": "black"}, "value": "white"}
          }
        },
        {
          "data": {"name": "legend"}, "transform": [{"filter": "datum.panel == 'b'"}],
          "mark": {"type": "point", "size": 900, "filled": true, "strokeWidth": 1.2, "opacity": 1},
          "encoding": {
            "x": {"field": "x", "type": "quantitative", "scale": {"domain": [-0.7, 0.7], "nice": false, "zero": false}, "axis": null},
            "y": {"field": "y", "type": "quantitative", "scale": {"domain": [0.1, 1.1], "nice": false, "zero": false}, "axis": null},
            "shape": {"field": "kind", "type": "nominal", "legend": null, "scale": {"domain": ["exp132", "exp108", "expDR", "soft132", "soft108", "stiff132", "stiff108", "bandSoft", "bandStiff"], "range": ["M-1,0H-0.25M0.25,0H1M0,-0.83V-0.25M0,0.25V0.83M-0.17,-0.83H0.17M-0.17,0.83H0.17M-1,-0.13V0.13M1,-0.13V0.13M-0.25,-0.25H0.25V0.25H-0.25Z", "M-1,0H-0.25M0.25,0H1M0,-0.83V-0.25M0,0.25V0.83M-0.17,-0.83H0.17M-0.17,0.83H0.17M-1,-0.13V0.13M1,-0.13V0.13M-0.25,-0.25H0.25V0.25H-0.25Z", "M-0.83,0H0.83M0,-0.6V0.6M-0.13,-0.6H0.13M-0.13,0.6H0.13M-0.83,-0.1V0.1M0.83,-0.1V0.1M-0.28,0A0.28,0.28 0 1,0 0.28,0A0.28,0.28 0 1,0 -0.28,0Z", "M-0.6,-0.075H0.6V0.075H-0.6Z", "M-0.6,-0.075H-0.27V0.075H-0.6ZM-0.07,-0.075H0.27V0.075H-0.07ZM0.45,-0.075H0.6V0.075H0.45Z", "M-0.6,-0.075H-0.2V0.075H-0.6ZM-0.03,-0.075H0.1V0.075H-0.03ZM0.27,-0.075H0.6V0.075H0.27Z", "M-0.6,-0.075H-0.17V0.075H-0.6ZM0,-0.075H0.13V0.075H0ZM0.3,-0.075H0.43V0.075H0.3Z", "M-0.83,-0.7H0.83V0.7H-0.83Z", "M-0.83,-0.7H0.83V0.7H-0.83Z"]}},
            "fill": {"field": "kind", "type": "nominal", "legend": null, "scale": {"domain": ["exp132", "exp108", "expDR", "soft132", "soft108", "stiff132", "stiff108", "bandSoft", "bandStiff"], "range": ["black", "white", "black", "#e0403c", "#e84a45", "#6cbf4f", "#6cbf4f", "#db5b45", "#8fcc78"]}},
            "stroke": {"field": "kind", "type": "nominal", "legend": null, "scale": {"domain": ["exp132", "exp108", "expDR", "soft132", "soft108", "stiff132", "stiff108", "bandSoft", "bandStiff"], "range": ["black", "black", "black", "transparent", "transparent", "transparent", "transparent", "transparent", "transparent"]}}
          }
        },
        {
          "data": {"name": "legend"}, "transform": [{"filter": "datum.panel == 'b'"}],
          "mark": {"type": "text", "align": "left", "baseline": "middle", "dx": 11, "fontSize": 16},
          "encoding": {
            "x": {"field": "x", "type": "quantitative", "scale": {"domain": [-0.7, 0.7], "nice": false, "zero": false}, "axis": null},
            "y": {"field": "y", "type": "quantitative", "scale": {"domain": [0.1, 1.1], "nice": false, "zero": false}, "axis": null},
            "text": {"field": "label"}
          }
        },
        {
          "data": {"name": "legend"}, "transform": [{"filter": "datum.panel == 'b'"}],
          "mark": {"type": "text", "align": "left", "baseline": "middle", "dx": 67, "dy": -5, "fontSize": 8.5},
          "encoding": {
            "x": {"field": "x", "type": "quantitative", "scale": {"domain": [-0.7, 0.7], "nice": false, "zero": false}, "axis": null},
            "y": {"field": "y", "type": "quantitative", "scale": {"domain": [0.1, 1.1], "nice": false, "zero": false}, "axis": null},
            "text": {"field": "a"}
          }
        },
        {
          "data": {"name": "legend"}, "transform": [{"filter": "datum.panel == 'b'"}],
          "mark": {"type": "text", "align": "left", "baseline": "middle", "dx": 79, "fontSize": 16},
          "encoding": {
            "x": {"field": "x", "type": "quantitative", "scale": {"domain": [-0.7, 0.7], "nice": false, "zero": false}, "axis": null},
            "y": {"field": "y", "type": "quantitative", "scale": {"domain": [0.1, 1.1], "nice": false, "zero": false}, "axis": null},
            "text": {"value": "Sn+"}
          }
        },
        {
          "data": {"name": "legend"}, "transform": [{"filter": "datum.panel == 'b'"}],
          "mark": {"type": "text", "align": "left", "baseline": "middle", "dx": 106, "dy": -5, "fontSize": 8.5},
          "encoding": {
            "x": {"field": "x", "type": "quantitative", "scale": {"domain": [-0.7, 0.7], "nice": false, "zero": false}, "axis": null},
            "y": {"field": "y", "type": "quantitative", "scale": {"domain": [0.1, 1.1], "nice": false, "zero": false}, "axis": null},
            "text": {"field": "b"}
          }
        },
        {
          "data": {"name": "legend"}, "transform": [{"filter": "datum.panel == 'b'"}],
          "mark": {"type": "text", "align": "left", "baseline": "middle", "dx": 119, "fontSize": 16},
          "encoding": {
            "x": {"field": "x", "type": "quantitative", "scale": {"domain": [-0.7, 0.7], "nice": false, "zero": false}, "axis": null},
            "y": {"field": "y", "type": "quantitative", "scale": {"domain": [0.1, 1.1], "nice": false, "zero": false}, "axis": null},
            "text": {"value": "Sn"}
          }
        },
        {
          "data": {"name": "labels"}, "transform": [{"filter": "datum.panel == 'b' && datum.part != 'var'"}],
          "mark": {"type": "text", "align": "left", "baseline": "alphabetic", "fontSize": 26},
          "encoding": {
            "x": {"field": "x", "type": "quantitative", "scale": {"domain": [-0.7, 0.7], "nice": false, "zero": false}, "axis": null},
            "y": {"field": "y", "type": "quantitative", "scale": {"domain": [0.1, 1.1], "nice": false, "zero": false}, "axis": null},
            "text": {"field": "text"}
          }
        },
        {
          "data": {"name": "labels"}, "transform": [{"filter": "datum.panel == 'b' && datum.part == 'var'"}],
          "mark": {"type": "text", "align": "left", "baseline": "alphabetic", "fontSize": 26, "fontStyle": "italic"},
          "encoding": {
            "x": {"field": "x", "type": "quantitative", "scale": {"domain": [-0.7, 0.7], "nice": false, "zero": false}, "axis": null},
            "y": {"field": "y", "type": "quantitative", "scale": {"domain": [0.1, 1.1], "nice": false, "zero": false}, "axis": null},
            "text": {"field": "text"}
          }
        }
      ]
    },
    {
      "width": 333, "height": 325,
      "resolve": {"axis": {"x": "independent", "y": "independent"}, "scale": {"color": "independent", "strokeDash": "independent", "fill": "independent", "stroke": "independent", "shape": "independent"}},
      "layer": [
        {
          "data": {"name": "bands"}, "transform": [{"filter": "datum.panel == 'd' && datum.model == 'soft'"}],
          "mark": {"type": "area", "color": "#db5b45", "opacity": 1},
          "encoding": {
            "x": {"field": "x", "type": "quantitative", "scale": {"domain": [-0.7, 0.7], "nice": false, "zero": false}, "axis": {"orient": "bottom", "values": [-0.6, -0.5, -0.4, -0.3, -0.2, -0.1, 0, 0.1, 0.2, 0.3, 0.4, 0.5, 0.6], "tickSize": {"condition": {"test": "datum.value == 0 || abs(datum.value) == 0.5", "value": -15}, "value": -7.5}, "labelExpr": "datum.value == 0 ? '0' : datum.value == 0.5 ? '0.5' : datum.value == -0.5 ? '−0.5' : ''", "labelPadding": 21, "labelBaseline": "top", "title": "- 1", "titleFontSize": 32, "titleX": 66, "titleY": 57, "titleAlign": "left", "titleBaseline": "alphabetic"}},
            "y": {"field": "lo", "type": "quantitative", "scale": {"domain": [1.3, 2.1], "nice": false, "zero": false}, "axis": {"orient": "right", "values": [1.35, 1.4, 1.45, 1.5, 1.55, 1.6, 1.65, 1.7, 1.75, 1.8, 1.85, 1.9, 1.95, 2, 2.05], "tickSize": {"condition": {"test": "indexof([1.4,1.6,1.8,2], datum.value) >= 0", "value": -9}, "value": -5}, "labelExpr": "indexof([1.4,1.6,1.8,2], datum.value) >= 0 ? format(datum.value, '~g') : ''", "labelPadding": 12, "title": "DR", "titleFontSize": 30, "titleFontStyle": "italic", "titleAngle": 90, "titleX": 47, "titleY": 136, "titleAlign": "left", "titleBaseline": "alphabetic"}},
            "y2": {"field": "hi"}
          }
        },
        {
          "data": {"name": "bands"}, "transform": [{"filter": "datum.panel == 'd' && datum.model == 'stiff'"}],
          "mark": {"type": "area", "color": "#7cc35a", "opacity": 0.72},
          "encoding": {
            "x": {"field": "x", "type": "quantitative", "scale": {"domain": [-0.7, 0.7], "nice": false, "zero": false}, "axis": {"orient": "bottom", "domain": false, "ticks": false, "labels": false, "title": "NN", "titleFontSize": 20, "titleFontStyle": "italic", "titleX": 28, "titleY": 67, "titleAlign": "left", "titleBaseline": "alphabetic"}},
            "y": {"field": "lo", "type": "quantitative", "scale": {"domain": [1.3, 2.1], "nice": false, "zero": false}, "axis": {"orient": "right", "domain": false, "ticks": false, "labels": false, "title": "t/p", "titleFontSize": 18, "titleFontStyle": "italic", "titleAngle": 90, "titleX": 40, "titleY": 185, "titleAlign": "left", "titleBaseline": "alphabetic"}},
            "y2": {"field": "hi"}
          }
        },
        {
          "data": {"name": "refs"}, "transform": [{"filter": "datum.panel == 'd'"}],
          "mark": {"type": "rule", "color": "#7088d0", "strokeWidth": 1.2, "strokeDash": [5, 4]},
          "encoding": {
            "y": {"field": "v", "type": "quantitative", "scale": {"domain": [1.3, 2.1], "nice": false, "zero": false}, "axis": null}
          }
        },
        {
          "data": {"name": "refs"}, "transform": [{"filter": "datum.panel == 'd'"}],
          "mark": {"type": "text", "align": "left", "baseline": "alphabetic", "fontSize": 24, "color": "#5674c6"},
          "encoding": {
            "x": {"datum": -0.677, "type": "quantitative", "scale": {"domain": [-0.7, 0.7], "nice": false, "zero": false}, "axis": null},
            "y": {"field": "labelV", "type": "quantitative", "scale": {"domain": [1.3, 2.1], "nice": false, "zero": false}, "axis": null},
            "text": {"value": "("}
          }
        },
        {
          "data": {"name": "refs"}, "transform": [{"filter": "datum.panel == 'd'"}],
          "mark": {"type": "text", "align": "left", "baseline": "alphabetic", "fontSize": 22, "fontStyle": "italic", "color": "#5674c6", "dx": 8},
          "encoding": {
            "x": {"datum": -0.677, "type": "quantitative", "scale": {"domain": [-0.7, 0.7], "nice": false, "zero": false}, "axis": null},
            "y": {"field": "labelV", "type": "quantitative", "scale": {"domain": [1.3, 2.1], "nice": false, "zero": false}, "axis": null},
            "text": {"value": "R"}
          }
        },
        {
          "data": {"name": "refs"}, "transform": [{"filter": "datum.panel == 'd'"}],
          "mark": {"type": "text", "align": "left", "baseline": "alphabetic", "fontSize": 15, "fontStyle": "italic", "color": "#5674c6", "dx": 21, "dy": 6},
          "encoding": {
            "x": {"datum": -0.677, "type": "quantitative", "scale": {"domain": [-0.7, 0.7], "nice": false, "zero": false}, "axis": null},
            "y": {"field": "labelV", "type": "quantitative", "scale": {"domain": [1.3, 2.1], "nice": false, "zero": false}, "axis": null},
            "text": {"field": "ref"}
          }
        },
        {
          "data": {"name": "refs"}, "transform": [{"filter": "datum.panel == 'd'"}],
          "mark": {"type": "text", "align": "left", "baseline": "alphabetic", "fontSize": 24, "color": "#5674c6", "dx": 55},
          "encoding": {
            "x": {"datum": -0.677, "type": "quantitative", "scale": {"domain": [-0.7, 0.7], "nice": false, "zero": false}, "axis": null},
            "y": {"field": "labelV", "type": "quantitative", "scale": {"domain": [1.3, 2.1], "nice": false, "zero": false}, "axis": null},
            "text": {"value": ")²"}
          }
        },
        {
          "data": {"name": "double"}, "transform": [{"filter": "datum.panel == 'd'"}],
          "mark": {"type": "errorbar", "ticks": true, "size": 6, "thickness": 1.2, "color": "black"},
          "encoding": {
            "x": {"field": "x", "type": "quantitative", "scale": {"domain": [-0.7, 0.7], "nice": false, "zero": false}, "axis": null},
            "y": {"field": "v", "type": "quantitative", "scale": {"domain": [1.3, 2.1], "nice": false, "zero": false}, "axis": null},
            "yError": {"field": "e"}
          }
        },
        {
          "data": {"name": "double"}, "transform": [{"filter": "datum.panel == 'd'"}],
          "mark": {"type": "errorbar", "ticks": true, "size": 6, "thickness": 1.2, "color": "black"},
          "encoding": {
            "x": {"field": "x", "type": "quantitative", "scale": {"domain": [-0.7, 0.7], "nice": false, "zero": false}, "axis": null},
            "xError": {"field": "xe"},
            "y": {"field": "v", "type": "quantitative", "scale": {"domain": [1.3, 2.1], "nice": false, "zero": false}, "axis": null}
          }
        },
        {
          "data": {"name": "double"}, "transform": [{"filter": "datum.panel == 'd'"}],
          "mark": {"type": "point", "shape": "circle", "size": 64, "filled": true, "color": "black", "opacity": 1},
          "encoding": {
            "x": {"field": "x", "type": "quantitative", "scale": {"domain": [-0.7, 0.7], "nice": false, "zero": false}, "axis": null},
            "y": {"field": "v", "type": "quantitative", "scale": {"domain": [1.3, 2.1], "nice": false, "zero": false}, "axis": null}
          }
        },
        {
          "data": {"name": "labels"}, "transform": [{"filter": "datum.panel == 'd' && datum.part != 'var'"}],
          "mark": {"type": "text", "align": "left", "baseline": "alphabetic", "fontSize": 26},
          "encoding": {
            "x": {"field": "x", "type": "quantitative", "scale": {"domain": [-0.7, 0.7], "nice": false, "zero": false}, "axis": null},
            "y": {"field": "y", "type": "quantitative", "scale": {"domain": [1.3, 2.1], "nice": false, "zero": false}, "axis": null},
            "text": {"field": "text"}
          }
        },
        {
          "data": {"name": "labels"}, "transform": [{"filter": "datum.panel == 'd' && datum.part == 'var'"}],
          "mark": {"type": "text", "align": "left", "baseline": "alphabetic", "fontSize": 26, "fontStyle": "italic"},
          "encoding": {
            "x": {"field": "x", "type": "quantitative", "scale": {"domain": [-0.7, 0.7], "nice": false, "zero": false}, "axis": null},
            "y": {"field": "y", "type": "quantitative", "scale": {"domain": [1.3, 2.1], "nice": false, "zero": false}, "axis": null},
            "text": {"field": "text"}
          }
        }
      ]
    }
  ]
}
